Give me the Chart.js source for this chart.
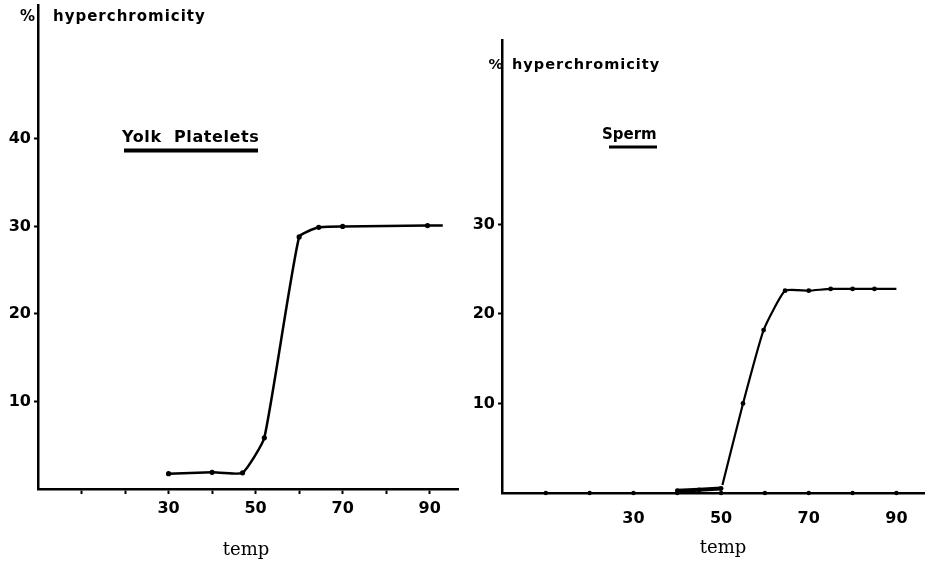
<!DOCTYPE html>
<html>
<head>
<meta charset="utf-8">
<title>hyperchromicity</title>
<script src="https://cdn.jsdelivr.net/npm/chart.js@4.4.0/dist/chart.umd.min.js"></script>
<style>
  body { margin: 0; background: #fff; }
  #wrap { position: relative; width: 928px; height: 564px; }
  canvas { position: absolute; top: 0; }
  #yolk { left: 0; }
  #sperm { left: 464px; }
</style>
</head>
<body>
<div id="wrap">
  <canvas id="yolk" width="464" height="564"></canvas>
  <canvas id="sperm" width="464" height="564"></canvas>
</div>
<script>
// values (temp in degrees, % hyperchromicity)
const yolkTemp = [30, 40, 47, 52, 60, 64.5, 70, 89.5, 93];
const yolkHyper = [1.75, 1.9, 1.85, 5.85, 28.8, 29.9, 30.0, 30.1, 30.1];

const spermLowTemp = [40, 45, 50];
const spermLowHyper = [0.25, 0.35, 0.5];
const spermTemp = [50.3, 55, 59.7, 64.6, 70, 75, 80, 85, 90];
const spermHyper = [0.9, 10, 18.2, 22.6, 22.6, 22.8, 22.8, 22.8, 22.8];

// axis ticks
const yolkXTicks = [10, 20, 30, 40, 50, 60, 70, 80, 90];
const yolkXLabels = [30, 50, 70, 90];
const yolkYTicks = [10, 20, 30, 40];
const spermXDots = [10, 20, 30, 40, 50, 60, 70, 80, 90];
const spermXLabels = [30, 50, 70, 90];
const spermYTicks = [10, 20, 30];

const tickFont = { family: 'DejaVu Sans', weight: 'bold', size: 16 };

const toPts = (xs, ys) => xs.map((x, i) => ({ x: x, y: ys[i] }));

// keep the axis boxes at fixed sizes so the plot areas line up with the scan
const fixY = w => s => { s.width = w; s.paddingTop = 0; s.paddingBottom = 0; };
const fixX = h => s => { s.height = h; s.paddingLeft = 0; s.paddingRight = 0; };

// draws the hand-lettered texts of each panel
const lettering = {
  id: 'lettering',
  afterDraw(chart, args, o) {
    const ctx = chart.ctx;
    ctx.save();
    ctx.fillStyle = '#000';
    ctx.textBaseline = 'alphabetic';
    ctx.font = 'bold ' + o.unitSize + 'px "DejaVu Sans"';
    ctx.textAlign = 'right';
    ctx.fillText('%', o.pctX, o.unitY);
    ctx.textAlign = 'left';
    ctx.letterSpacing = o.unitSpacing + 'px';
    ctx.fillText('hyperchromicity', o.unitX, o.unitY);

    ctx.font = 'bold ' + o.titleSize + 'px "DejaVu Sans"';
    ctx.letterSpacing = o.titleSpacing + 'px';
    ctx.fillText(o.title, o.titleX, o.titleY);
    ctx.fillRect(o.lineX1, o.lineY, o.lineX2 - o.lineX1, o.lineW);

    ctx.letterSpacing = '0px';
    ctx.font = '18px "DejaVu Serif"';
    ctx.textAlign = 'center';
    ctx.fillText('temp', o.tempX, o.tempY);
    ctx.restore();
  }
};

new Chart(document.getElementById('yolk'), {
  type: 'scatter',
  data: {
    datasets: [{
      data: toPts(yolkTemp, yolkHyper),
      showLine: true,
      borderColor: '#000',
      borderWidth: 2.5,
      tension: 0.15,
      pointRadius: ctx => ctx.dataIndex === yolkTemp.length - 1 ? 0 : 2.6,
      pointBackgroundColor: '#000',
      pointBorderWidth: 0
    }]
  },
  options: {
    responsive: false,
    animation: false,
    layout: { padding: { left: 0, right: 6, top: 5, bottom: 0 } },
    scales: {
      x: {
        type: 'linear', min: 0, max: 96.5,
        afterFit: fixX(75),
        afterBuildTicks: s => { s.ticks = yolkXTicks.map(v => ({ value: v })); },
        grid: { display: true, drawOnChartArea: false, drawTicks: true, tickLength: 5, tickWidth: 2, tickColor: '#000' },
        border: { display: true, color: '#000', width: 2.5 },
        ticks: {
          padding: 5, color: '#000', font: tickFont, maxRotation: 0, autoSkip: false,
          callback: v => yolkXLabels.includes(v) ? String(v) : ''
        }
      },
      y: {
        min: 0, max: 55.3,
        afterFit: fixY(38),
        afterBuildTicks: s => { s.ticks = yolkYTicks.map(v => ({ value: v })); },
        grid: { display: true, drawOnChartArea: false, drawTicks: true, tickLength: 4, tickWidth: 2, tickColor: '#000' },
        border: { display: true, color: '#000', width: 2.5 },
        ticks: { padding: 3, color: '#000', font: tickFont }
      }
    },
    plugins: {
      legend: { display: false },
      tooltip: { enabled: false },
      lettering: {
        unitSize: 15, unitSpacing: 1, pctX: 35, unitX: 53, unitY: 21,
        title: 'Yolk  Platelets', titleSize: 16, titleSpacing: 0.6, titleX: 122, titleY: 142,
        lineX1: 124, lineX2: 258, lineY: 148.5, lineW: 4,
        tempX: 246, tempY: 555
      }
    }
  },
  plugins: [lettering]
});

new Chart(document.getElementById('sperm'), {
  type: 'scatter',
  data: {
    datasets: [{
      // thick stroke near zero between 40 and 50
      data: toPts(spermLowTemp, spermLowHyper),
      showLine: true,
      borderColor: '#000',
      borderWidth: 4,
      pointRadius: 2.4,
      pointBackgroundColor: '#000',
      pointBorderWidth: 0,
      clip: false
    }, {
      data: toPts(spermTemp, spermHyper),
      showLine: true,
      borderColor: '#000',
      borderWidth: 2.2,
      tension: 0.15,
      pointRadius: ctx => (ctx.dataIndex === 0 || ctx.dataIndex === spermTemp.length - 1) ? 0 : 2.4,
      pointBackgroundColor: '#000',
      pointBorderWidth: 0
    }, {
      // dots marking the temperature steps on the axis
      data: spermXDots.map(x => ({ x: x, y: 0 })),
      showLine: false,
      pointRadius: 2.2,
      pointBackgroundColor: '#000',
      pointBorderWidth: 0,
      clip: false
    }]
  },
  options: {
    responsive: false,
    animation: false,
    layout: { padding: { left: 0, right: 3, top: 40, bottom: 0 } },
    scales: {
      x: {
        type: 'linear', min: 0, max: 96.3,
        afterFit: fixX(71),
        afterBuildTicks: s => { s.ticks = spermXLabels.map(v => ({ value: v })); },
        grid: { display: false },
        border: { display: true, color: '#000', width: 2.5 },
        ticks: { padding: 8, color: '#000', font: tickFont, maxRotation: 0, autoSkip: false }
      },
      y: {
        min: 0, max: 50.6,
        afterFit: fixY(38),
        afterBuildTicks: s => { s.ticks = spermYTicks.map(v => ({ value: v })); },
        grid: { display: true, drawOnChartArea: false, drawTicks: true, tickLength: 4, tickWidth: 2, tickColor: '#000' },
        border: { display: true, color: '#000', width: 2.5 },
        ticks: { padding: 3, color: '#000', font: tickFont }
      }
    },
    plugins: {
      legend: { display: false },
      tooltip: { enabled: false },
      lettering: {
        unitSize: 14.5, unitSpacing: 1, pctX: 39, unitX: 48, unitY: 69,
        title: 'Sperm', titleSize: 15, titleSpacing: 0, titleX: 138, titleY: 139,
        lineX1: 145, lineX2: 193, lineY: 145.5, lineW: 3,
        tempX: 259, tempY: 553
      }
    }
  },
  plugins: [lettering]
});
</script>
</body>
</html>
